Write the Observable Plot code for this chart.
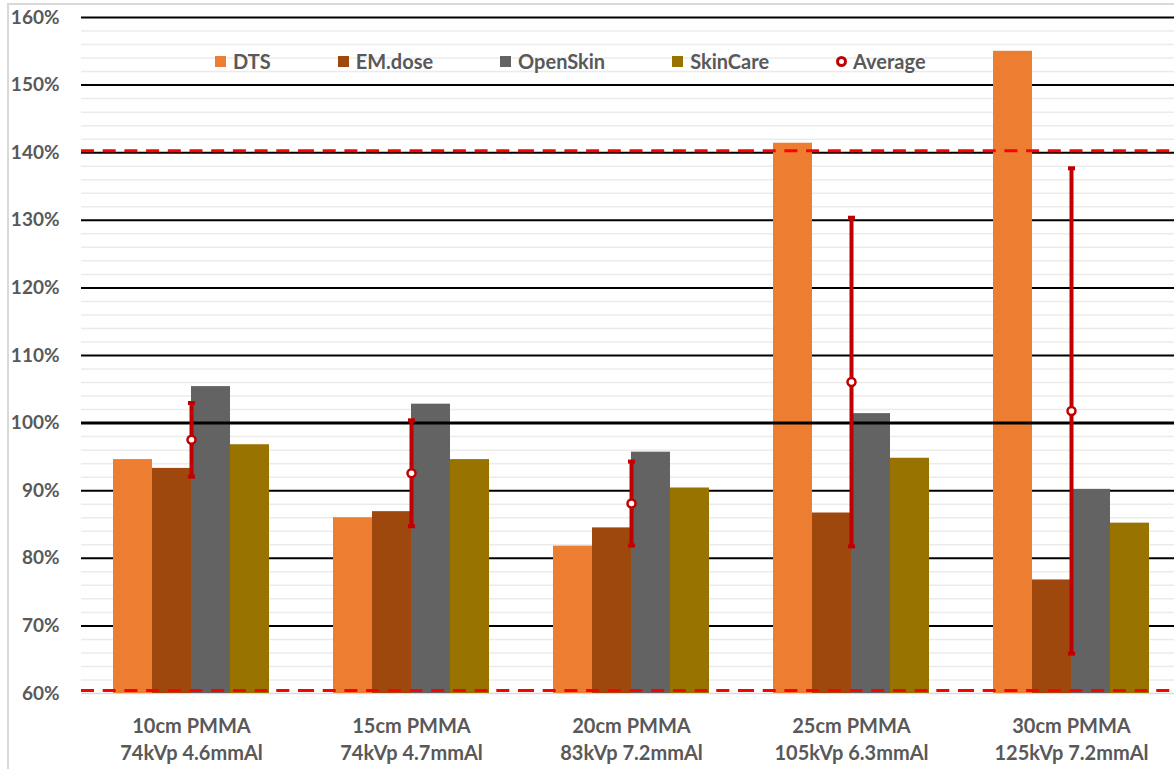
<!DOCTYPE html>
<html>
<head>
<meta charset="utf-8">
<script src="https://cdn.jsdelivr.net/npm/d3@7"></script>
<script src="https://cdn.jsdelivr.net/npm/@observablehq/plot@0.6"></script>
<style>
  body { margin: 0; background: #fff; }
  #chart { position: relative; width: 1174px; height: 769px; overflow: hidden; font-family: Lato, "Open Sans", sans-serif; }
  #chart svg { display: block; }
  #frame { position: absolute; left: 7px; top: 3px; right: -10px; bottom: -10px; border: 2px solid #D9D9D9; pointer-events: none; }
  #legend { position: absolute; left: 215px; top: 48px; display: flex; align-items: center; gap: 67px; font: 700 20px Lato, sans-serif; color: #595959; white-space: nowrap; }
  .item { display: flex; align-items: center; gap: 7px; height: 26px; }
  .swatch { width: 11px; height: 11px; }
  .ring { width: 5px; height: 5px; border: 3px solid #C00000; border-radius: 50%; background: #fff; }
</style>
</head>
<body>
<div id="chart">
  <div id="frame"></div>
  <div id="legend"></div>
</div>
<script>
// Phantom setups (two-line category labels)
const phantoms = ["10cm PMMA", "15cm PMMA", "20cm PMMA", "25cm PMMA", "30cm PMMA"];
const beams = ["74kVp 4.6mmAl", "74kVp 4.7mmAl", "83kVp 7.2mmAl", "105kVp 6.3mmAl", "125kVp 7.2mmAl"];

// Software estimates relative to measurement (%)
const series = ["DTS", "EM.dose", "OpenSkin", "SkinCare"];
const dts      = [94.6, 86.0, 81.8, 141.4, 155.0];
const emDose   = [93.3, 86.9, 84.5, 86.7, 76.8];
const openSkin = [105.4, 102.8, 95.7, 101.4, 90.2];
const skinCare = [96.8, 94.6, 90.4, 94.8, 85.2];
const seriesValues = [dts, emDose, openSkin, skinCare];
const colors = ["#ED7D31", "#9E480E", "#636363", "#997300"];

// Tolerance limits and axis ticks
const limits = [140.3, 60.45];
const yDomain = [60, 160];
const yTicks = [60, 70, 80, 90, 100, 110, 120, 130, 140, 150, 160];
const minorTicks = d3.range(62, 160, 2).filter(v => v % 10 !== 0);

const labelOf = new Map(phantoms.map((p, i) => [p, p + "\n" + beams[i]]));

const rows = phantoms.flatMap((p, i) =>
  series.map((s, j) => ({ phantom: p, series: s, value: seriesValues[j][i] }))
);

// Mean and sample standard deviation of the four estimates per setup
const stats = phantoms.map((p, i) => {
  const v = seriesValues.map(a => a[i]);
  const mean = d3.mean(v), sd = d3.deviation(v);
  return { phantom: p, mean, lo: mean - sd, hi: mean + sd };
});

const capSymbol = { draw(ctx) { ctx.rect(-3.5, -2, 7, 4); } };

const chart = Plot.plot({
  width: 1174,
  height: 769,
  marginLeft: 80,
  marginRight: -8,
  marginTop: 17,
  marginBottom: 76,
  style: { background: "transparent", fontFamily: "Lato, sans-serif" },
  fx: { domain: phantoms, padding: 0, label: null, axis: null },
  x: { domain: series, paddingInner: 0, paddingOuter: 0.755, axis: null },
  y: { domain: yDomain, axis: null },
  color: { domain: series, range: colors },
  marks: [
    Plot.ruleY(minorTicks, { stroke: "#EBEBEB", strokeWidth: 1.5 }),
    Plot.ruleY(yTicks.filter(v => v !== 60 && v !== 100), { stroke: "#000", strokeWidth: 2 }),
    Plot.ruleY([60], { stroke: "#D9D9D9", strokeWidth: 1.5 }),
    Plot.barY(rows, { fx: "phantom", x: "series", y1: yDomain[0], y2: "value", fill: "series" }),
    Plot.ruleY([100], { stroke: "#000", strokeWidth: 3 }),
    Plot.ruleY(limits, { stroke: "#FF0000", strokeWidth: 3, strokeDasharray: "13,8.7" }),
    // error bars sit at the centre of each group
    Plot.ruleX(stats, { fx: "phantom", x: null, y1: "lo", y2: "hi", stroke: "#C00000", strokeWidth: 4 }),
    Plot.dot(stats, { fx: "phantom", y: "lo", symbol: capSymbol, fill: "#C00000", stroke: null }),
    Plot.dot(stats, { fx: "phantom", y: "hi", symbol: capSymbol, fill: "#C00000", stroke: null }),
    Plot.dot(stats, { fx: "phantom", y: "mean", r: 4, fill: "#fff", stroke: "#C00000", strokeWidth: 2.5 }),
    Plot.axisY(yTicks, {
      tickSize: 0, tickPadding: 22, tickFormat: d => d + "%", label: null,
      fontSize: 19, fontWeight: 700, color: "#595959"
    }),
    Plot.axisFx({
      anchor: "bottom", tickSize: 0, tickPadding: 20, label: null,
      tickFormat: d => labelOf.get(d), lineHeight: 1.37,
      fontSize: 20, fontWeight: 700, color: "#595959"
    })
  ]
});

const root = document.getElementById("chart");
root.insertBefore(chart, root.firstChild);

// Legend overlaid inside the plot area
const legend = d3.select("#legend");
series.forEach((s, i) => {
  const item = legend.append("div").attr("class", "item");
  item.append("div").attr("class", "swatch").style("background", colors[i]);
  item.append("span").text(s);
});
const avg = legend.append("div").attr("class", "item").style("gap", "6px");
avg.append("div").attr("class", "ring");
avg.append("span").text("Average");
</script>
</body>
</html>
